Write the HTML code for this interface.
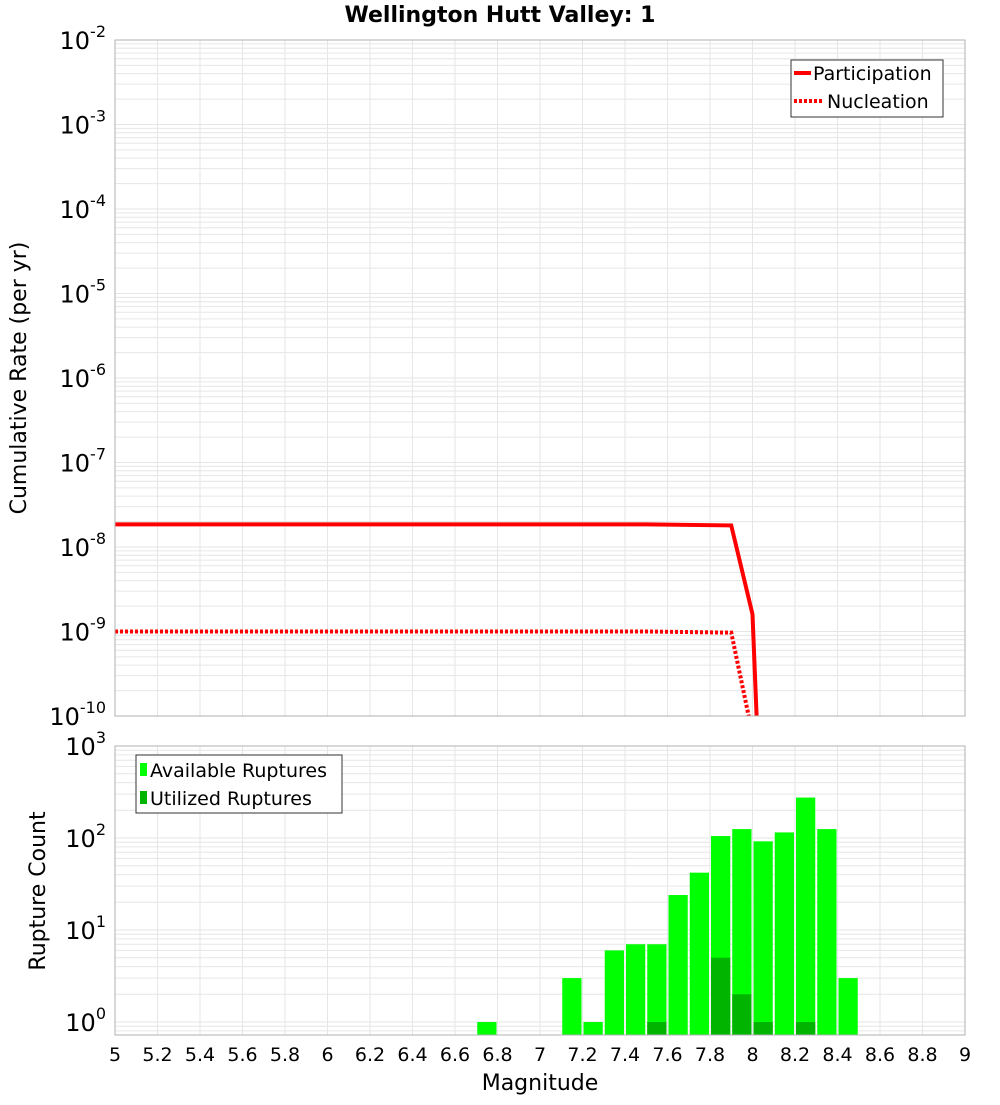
<!DOCTYPE html>
<html><head><meta charset="utf-8"><style>
body{margin:0;background:#fff;font-family:"Liberation Sans","DejaVu Sans",sans-serif}
</style></head><body>
<svg id="chart" width="1000" height="1100" xmlns="http://www.w3.org/2000/svg" font-family="DejaVu Sans, Liberation Sans, sans-serif"></svg>
<script>
const magTicks=[5,5.2,5.4,5.6,5.8,6,6.2,6.4,6.6,6.8,7,7.2,7.4,7.6,7.8,8,8.2,8.4,8.6,8.8,9];
const partMag=[5,7.5,7.9,8.0,8.02];
const partRate=[1.85e-8,1.85e-8,1.8e-8,1.6e-9,9e-11];
const nuclMag=[5,7.5,7.9,7.99];
const nuclRate=[1.0e-9,1.0e-9,0.97e-9,8e-11];
const binMag=[6.75,7.15,7.25,7.35,7.45,7.55,7.65,7.75,7.85,7.95,8.05,8.15,8.25,8.35,8.45];
const availCount=[1,3,1,6,7,7,24,42,105,125,92,115,275,125,3];
const usedCount=[0,0,0,0,0,1,0,0,5,2,1,0,1,0,0];
const NS="http://www.w3.org/2000/svg";
const svg=document.getElementById('chart');
function mk(t,a,p){const e=document.createElementNS(NS,t);for(const k in a)e.setAttribute(k,a[k]);(p||svg).appendChild(e);return e;}
const X0=115,X1=965;
const x=m=>X0+(m-5)/4*(X1-X0);
const T0=40,T1=716,yT=v=>T0+(-2-Math.log10(v))/8*(T1-T0);
const B0=746,B1=1035,yB=v=>B0+(3-Math.log10(v))*92;
// title
let t=mk('text',{x:500,y:22,'text-anchor':'middle','font-size':22,'font-weight':'bold'});t.textContent='Wellington Hutt Valley: 1';

// clip
const defs=mk('defs',{});
mk('rect',{x:X0,y:T0,width:X1-X0,height:T1-T0},mk('clipPath',{id:'ct'},defs));
mk('rect',{x:X0,y:B0,width:X1-X0,height:B1-B0},mk('clipPath',{id:'cb'},defs));
// grids
const g=mk('g',{stroke:'#e6e6e6','stroke-width':1});

for(let m=5.2;m<9;m+=0.2){mk('line',{x1:x(m),x2:x(m),y1:T0,y2:T1},g);mk('line',{x1:x(m),x2:x(m),y1:B0,y2:B1},g);}
for(let d=-10;d<-2;d++)for(let k=1;k<10;k++){const yy=yT(k*Math.pow(10,d));if(yy>T0&&yy<T1)mk('line',{x1:X0,x2:X1,y1:yy,y2:yy},g);}
for(let d=-1;d<3;d++)for(let k=1;k<10;k++){const yy=yB(k*Math.pow(10,d));if(yy>B0&&yy<B1)mk('line',{x1:X0,x2:X1,y1:yy,y2:yy},g);}
// lines
function pts(ms,vs){return ms.map((m,i)=>x(m)+','+yT(vs[i])).join(' ');}
let l=mk('polyline',{points:pts(partMag,partRate),fill:'none',stroke:'#ff0000','stroke-width':4,'clip-path':'url(#ct)'});

l=mk('polyline',{points:pts(nuclMag,nuclRate),fill:'none',stroke:'#ff0000','stroke-width':4,'stroke-dasharray':'3,2','clip-path':'url(#ct)'});

// bars
const bw=x(5.1)-x(5)-2;
binMag.forEach((m,i)=>{
 let r=mk('rect',{x:x(m)-bw/2,y:yB(availCount[i]),width:bw,height:B1+5-yB(availCount[i]),fill:'#00ff00','clip-path':'url(#cb)'});
 
 if(usedCount[i]>0){r=mk('rect',{x:x(m)-bw/2,y:yB(usedCount[i]),width:bw,height:B1+5-yB(usedCount[i]),fill:'#00b400','clip-path':'url(#cb)'});
 }
});
// frames
mk('rect',{x:X0,y:T0,width:X1-X0,height:T1-T0,fill:'none',stroke:'#b0b0b0'});
mk('rect',{x:X0,y:B0,width:X1-X0,height:B1-B0,fill:'none',stroke:'#b0b0b0'});
// y ticks top
for(let d=-2;d>=-10;d--){const e=mk('text',{x:106,y:yT(Math.pow(10,d))+9,'text-anchor':'end','font-size':24});
 e.innerHTML='10<tspan dy="-12" font-size="16">'+d+'</tspan>';}
for(let d=3;d>=0;d--){const e=mk('text',{x:106,y:yB(Math.pow(10,d))+9,'text-anchor':'end','font-size':24});
 e.innerHTML='10<tspan dy="-12" font-size="16">'+d+'</tspan>';}
magTicks.forEach(m=>{const e=mk('text',{x:x(m),y:1061,'text-anchor':'middle','font-size':19});e.textContent=String(m);
 });
t=mk('text',{x:540,y:1090,'text-anchor':'middle','font-size':22});t.textContent='Magnitude';

t=mk('text',{x:26,y:378,'text-anchor':'middle','font-size':22,transform:'rotate(-90 26 378)'});t.textContent='Cumulative Rate (per yr)';

t=mk('text',{x:45,y:891,'text-anchor':'middle','font-size':22,transform:'rotate(-90 45 891)'});t.textContent='Rupture Count';

// legends
let lg=mk('g',{});
mk('rect',{x:791,y:60,width:152,height:57,fill:'#fff',stroke:'#333'},lg);
mk('line',{x1:794,x2:811,y1:73,y2:73,stroke:'#f00','stroke-width':4},lg);
mk('line',{x1:794,x2:823,y1:101,y2:101,stroke:'#f00','stroke-width':4,'stroke-dasharray':'3,2'},lg);
t=mk('text',{x:813,y:80,'font-size':19},lg);t.textContent='Participation';
t=mk('text',{x:827,y:108,'font-size':19},lg);t.textContent='Nucleation';
lg=mk('g',{});
mk('rect',{x:136,y:755,width:206,height:58,fill:'#fff',stroke:'#333'},lg);
mk('rect',{x:140,y:763,width:7,height:13,fill:'#00ff00'},lg);
mk('rect',{x:140,y:791,width:7,height:13,fill:'#00b400'},lg);
t=mk('text',{x:150,y:777,'font-size':19},lg);t.textContent='Available Ruptures';
t=mk('text',{x:150,y:805,'font-size':19},lg);t.textContent='Utilized Ruptures';
</script>
</body></html>
